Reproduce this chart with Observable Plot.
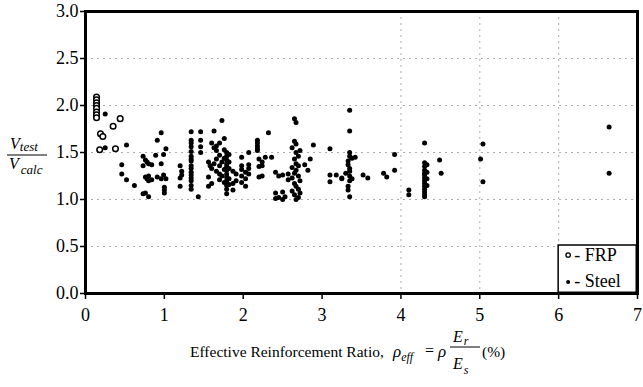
<!DOCTYPE html>
<html><head><meta charset="utf-8">
<script src="https://cdn.jsdelivr.net/npm/d3@7"></script>
<script src="https://cdn.jsdelivr.net/npm/@observablehq/plot@0.6"></script>
<style>body{margin:0;background:#fff}</style>
</head><body><div id="chart"></div>
<script>
// FRP specimens (open circles)
const frpX = [0.14,0.14,0.14,0.14,0.14,0.14,0.14,0.14,0.18,0.19,0.22,0.35,0.38,0.44];
const frpY = [2.09,2.06,2.03,2.00,1.97,1.93,1.90,1.87,1.53,1.70,1.67,1.78,1.54,1.86];

// Steel specimens (filled dots), grouped by effective reinforcement ratio
const steelColX = [0.25,0.46,0.52,0.62,0.73,0.76,0.78,0.80,0.84,0.89,0.91,0.96,0.99,1.00,1.02,1.20,1.22,1.34,1.43,1.46,
  1.56,1.58,1.60,1.63,1.66,1.70,1.73,1.76,1.79,1.82,1.87,1.91,1.98,2.03,2.07,2.18,2.20,2.24,2.28,2.32,2.36,2.41,2.45,
  2.50,2.53,2.57,2.62,2.65,2.67,2.70,2.72,2.78,2.82,2.85,2.89,3.10,3.18,3.25,3.30,3.33,3.35,3.38,3.42,3.52,3.58,3.78,
  3.82,3.92,4.10,4.30,4.33,4.49,4.51,5.01,5.04,6.64];
const steelColY = [
  [1.91,1.55],[1.37,1.27],[1.58,1.21],[1.15],[1.46,1.36,1.06],[1.42,1.24,1.07],[1.40,1.22],[1.38,1.25,1.20,1.03],
  [1.37,1.21],[1.47],[1.63,1.24],[1.71,1.38,1.22],[1.48,1.26],[1.13,1.10,1.07],[1.54,1.22],[1.36,1.23,1.14],[1.30,1.26],
  [1.72,1.63,1.60,1.56,1.51,1.46,1.43,1.41,1.36,1.33,1.29,1.26,1.23,1.20,1.15,1.11],[1.03],[1.72,1.63,1.56,1.50],
  [1.40,1.24,1.14],[1.36],[1.60,1.33,1.17],[1.73,1.55,1.38],[1.57,1.52,1.43,1.30],[1.60,1.47,1.36,1.27,1.21],
  [1.84,1.40,1.25],[1.65,1.53,1.44,1.32,1.18],[1.50,1.46,1.42,1.38,1.35,1.31,1.27,1.24,1.20,1.15,1.11,1.06],
  [1.48,1.40,1.33,1.22,1.16],[1.30,1.17,1.10],[1.27,1.20],[1.45,1.36,1.32,1.25,1.18],[1.29,1.22,1.14],
  [1.50,1.37,1.33,1.27],[1.63,1.60,1.57,1.54,1.52],[1.43,1.35,1.24],[1.40,1.36,1.25],[1.45],[1.71],[1.45],
  [1.29,1.07,1.01],[1.25,1.02],[1.26,1.08,1.00],[1.03],[1.27,1.21],[1.55,1.34,1.23,1.09],
  [1.86,1.62,1.43,1.28,1.17,1.05],[1.82,1.59,1.50,1.38,1.31,1.14,1.00],[1.46,1.36,1.25,1.11,1.02],[1.52,1.20,1.07],
  [1.37],[1.31],[1.43],[1.58],[1.54,1.26,1.19],[1.26],[1.22,1.23],[1.28],[1.41,1.37,1.14,1.10],
  [1.95,1.73,1.50,1.46,1.33,1.30,1.25,1.20,1.03],[1.44,1.22],[1.45],[1.26],[1.23],[1.28],[1.24],[1.48,1.31],[1.10,1.05],
  [1.60,1.39,1.35,1.31,1.28,1.26,1.23,1.20,1.17,1.14,1.11,1.08,1.05,1.03],[1.37,1.29,1.22,1.15],[1.42],[1.28],[1.43],
  [1.59,1.19],[1.77,1.28]
];

const xTicks = [0,1,2,3,4,5,6,7];
const yTicks = [0,0.5,1.0,1.5,2.0,2.5,3.0];
const xGrid = [4,5,6];
const legendLabels = ["- FRP","- Steel"];

const frp = frpX.map((x,i)=>({x, y: frpY[i]}));
const steel = steelColX.flatMap((x,i)=>steelColY[i].map(y=>({x,y})));

const plot = Plot.plot({
  width: 643, height: 387,
  marginLeft: 85, marginRight: 6, marginTop: 11, marginBottom: 94,
  style: {fontFamily: "'Liberation Serif','Times New Roman',serif", fontSize: "18px", color: "#000", background: "#fff"},
  x: {domain: [0,7], label: null},
  y: {domain: [0,3], label: null},
  marks: [
    Plot.gridY(yTicks.filter(d=>d>0 && d<3), {stroke:"#777", strokeOpacity:0.6, strokeDasharray:"2,4"}),
    Plot.gridX(xGrid, {stroke:"#777", strokeOpacity:0.6, strokeDasharray:"2,4"}),
    Plot.axisY(yTicks, {tickFormat: d=>d.toFixed(1), tickSize:5, tickPadding:2, strokeWidth:1.5, label:null}),
    Plot.axisX(xTicks, {tickSize:6, tickPadding:9, strokeWidth:1.5, label:null}),
    Plot.frame({stroke:"#000", strokeWidth:3}),
    Plot.dot(steel, {x:"x", y:"y", r:2.5, fill:"#000"}),
    Plot.dot(frp, {x:"x", y:"y", r:2.8, stroke:"#000", strokeWidth:1.5, fill:"#fff"})
  ]
});
document.getElementById("chart").append(plot);

const svg = d3.select(plot);
const sx = plot.scale("x"), sy = plot.scale("y");
const font = "'Liberation Serif','Times New Roman',serif";

// Legend
const L = sx.apply(6), R = sx.apply(7), T = sy.apply(0.5) - 1, B = sy.apply(0);
const lg = svg.append("g").attr("font-family", font).attr("font-size", 18).attr("text-anchor","start");
lg.append("rect").attr("x", L).attr("y", T).attr("width", R-L).attr("height", B-T)
  .attr("fill","#fff").attr("stroke","#000").attr("stroke-width",1.5);
lg.append("circle").attr("cx", L+10).attr("cy", T+10).attr("r", 2.2).attr("fill","#fff").attr("stroke","#000").attr("stroke-width",1.3);
lg.append("text").attr("x", L+16).attr("y", T+16).text(legendLabels[0]);
lg.append("circle").attr("cx", L+10).attr("cy", T+37).attr("r", 2).attr("fill","#000");
lg.append("text").attr("x", L+16).attr("y", T+42).text(legendLabels[1]);
// redraw frame edges over the legend box
svg.append("line").attr("x1", L).attr("x2", R+1.5).attr("y1", B).attr("y2", B).attr("stroke","#000").attr("stroke-width",3);
svg.append("line").attr("x1", R).attr("x2", R).attr("y1", T).attr("y2", B).attr("stroke","#000").attr("stroke-width",3);

// Y title: V_test / V_calc
const yt = svg.append("g").attr("font-family", font).attr("font-style","italic").attr("text-anchor","start");
const num = yt.append("text").attr("x", 10).attr("y", 149).attr("font-size", 16);
num.append("tspan").text("V");
num.append("tspan").attr("font-size", 13).attr("dy", 2).text("test");
yt.append("line").attr("x1", 7).attr("x2", 47).attr("y1", 155).attr("y2", 155).attr("stroke","#000").attr("stroke-width",1);
const den = yt.append("text").attr("x", 9).attr("y", 169).attr("font-size", 16);
den.append("tspan").text("V");
den.append("tspan").attr("font-size", 13).attr("dy", 5).attr("dx", 2).text("calc");

// X title
const xt = svg.append("g").attr("font-family", font).attr("text-anchor","start");
xt.append("text").attr("x", 190).attr("y", 357).attr("font-size", 15.5).text("Effective Reinforcement Ratio,");
const rho = xt.append("text").attr("x", 393).attr("y", 357).attr("font-size", 17).attr("font-style","italic");
rho.append("tspan").text("ρ");
rho.append("tspan").attr("font-size", 12).attr("dy", 4).text("eff");
xt.append("text").attr("x", 425).attr("y", 356).attr("font-size", 16).text("=");
xt.append("text").attr("x", 438).attr("y", 357).attr("font-size", 17).attr("font-style","italic").text("ρ");
const n2 = xt.append("text").attr("x", 453).attr("y", 342).attr("font-size", 16).attr("font-style","italic");
n2.append("tspan").text("E");
n2.append("tspan").attr("font-size", 12).attr("dy", 3).attr("dx", 1).text("r");
xt.append("line").attr("x1", 450).attr("x2", 480).attr("y1", 347).attr("y2", 347).attr("stroke","#000").attr("stroke-width",1);
const d2 = xt.append("text").attr("x", 453).attr("y", 369).attr("font-size", 16).attr("font-style","italic");
d2.append("tspan").text("E");
d2.append("tspan").attr("font-size", 12).attr("dy", 5).attr("dx", 1).text("s");
xt.append("text").attr("x", 482).attr("y", 357).attr("font-size", 15.5).text("(%)");
</script>
</body></html>
